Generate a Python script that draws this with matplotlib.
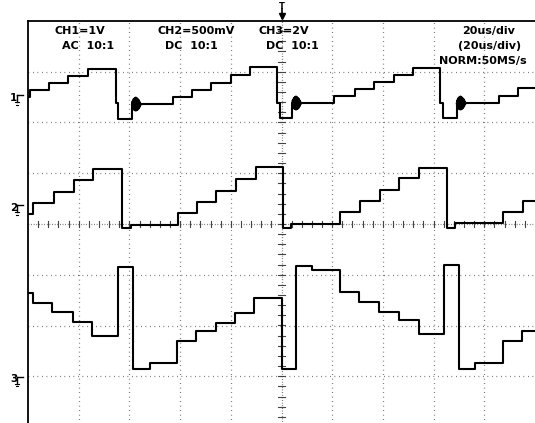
import numpy as np
import matplotlib.pyplot as plt

# scope capture: time in microseconds (20 us/div), vertical in screen divisions
# --- channel 1 (AC, 1 V/div) ---
ch1_t = [0, 0.6, 8.3, 15.8, 23.7, 34.8, 35.6, 41.1, 57.3, 64.8, 72.3, 80.2, 87.7,
         98.4, 99.6, 104.3, 120.9, 128.9, 136.4, 144.3, 151.8, 162.5, 163.6, 169.2,
         185.8, 193.3, 200]
ch1_v = [2.50, 2.64, 2.78, 2.92, 3.05, 2.38, 2.07, 2.36, 2.50, 2.64, 2.78, 2.94, 3.09,
         2.38, 2.09, 2.38, 2.52, 2.66, 2.80, 2.94, 3.07, 2.38, 2.09, 2.38,
         2.52, 2.68, 2.68]

# ringing burst after each rising edge of ch1
ring_start = [41.1, 104.3, 169.2]
ring_level = [2.36, 2.38, 2.38]
ring_dt = [0, 0.2, 0.4, 0.6, 0.8, 1.0, 1.2, 1.4, 1.6, 1.8, 2.0, 2.2, 2.4, 2.6, 2.8,
           3.0, 3.2, 3.4]
ring_dv = [0, 0.06, -0.07, 0.10, -0.11, 0.12, -0.12, 0.13, -0.12, 0.12, -0.11, 0.10,
           -0.09, 0.08, -0.06, 0.04, -0.02, 0]

# --- channel 2 (DC, 500 mV/div) ---
ch2_t = [0, 2.0, 10.3, 18.2, 25.7, 37.2, 40.5, 59.3, 66.8, 74.3, 82.2, 90.1,
         100.4, 103.8, 122.9, 130.8, 138.7, 146.2, 154.2, 165.2, 168.5, 187.4, 195.3, 200]
ch2_v = [0.20, 0.41, 0.63, 0.87, 1.08, -0.07, -0.02, 0.22, 0.43, 0.65, 0.89, 1.12,
         -0.07, 0.00, 0.24, 0.45, 0.67, 0.91, 1.10, -0.07, 0.02, 0.24, 0.45, 0.45]

# --- channel 3 (DC, 2 V/div) ---
ch3_t = [0, 2.0, 9.5, 17.8, 25.3, 35.6, 41.5, 48.2, 58.9, 66.4, 74.3, 81.8, 89.3,
         100.0, 105.9, 112.2, 122.9, 130.4, 138.3, 146.2, 154.2, 164.0, 170.0, 176.3,
         187.4, 194.9, 200]
ch3_v = [-1.36, -1.56, -1.73, -1.93, -2.21, -0.85, -2.86, -2.74, -2.31, -2.11, -1.95,
         -1.75, -1.46, -2.86, -0.83, -0.91, -1.34, -1.54, -1.73, -1.89, -2.17, -0.81,
         -2.86, -2.74, -2.31, -2.11, -2.11]

ground_labels = ['1', '2', '3']
ground_levels = [2.54, 0.37, -3.01]

fig = plt.figure(figsize=(5.35, 4.23), dpi=100)
ax = fig.add_axes([28 / 535, -4 / 423, 507 / 535, 406 / 423])
ax.set_xlim(0, 200)
ax.set_ylim(-4, 4)
ax.set_xticks([])
ax.set_yticks([])
for side in ['right', 'bottom']:
    ax.spines[side].set_visible(False)
for side in ['left', 'top']:
    ax.spines[side].set_linewidth(1.3)

# dotted graticule
dots = dict(color='#555555', lw=0.9, linestyle=(0, (0.6, 3.0)), zorder=1)
for i in range(1, 10):
    if i != 5:
        ax.axvline(i * 20, **dots)
for j in range(-3, 4):
    if j != 0:
        ax.axhline(j, **dots)

# centre cross with minor ticks
ax.axhline(0, color='#555555', lw=0.9, linestyle=(0, (0.6, 1.5)), zorder=1)
ax.axvline(100, color='#555555', lw=0.9, linestyle=(0, (0.6, 1.5)), zorder=1)
for tx in np.arange(4, 200, 4):
    ax.plot([tx, tx], [-0.06, 0.06], color='#444444', lw=0.8, zorder=1)
for ty in np.arange(-3.8, 4.0, 0.2):
    ax.plot([98.8, 101.2], [ty, ty], color='#444444', lw=0.8, zorder=1)

# traces
trace = dict(color='black', lw=1.5, drawstyle='steps-post', zorder=3)
ax.plot(ch1_t, ch1_v, **trace)
ax.plot(ch2_t, ch2_v, **trace)
ax.plot(ch3_t, ch3_v, **trace)
for t0, lv in zip(ring_start, ring_level):
    ax.plot([t0 + d for d in ring_dt], [lv + d for d in ring_dv],
            color='black', lw=1.6, zorder=4)

# ground markers on the left
for lab, lv in zip(ground_labels, ground_levels):
    ax.text(-5.6, lv - 0.05, lab, fontsize=7.5, fontweight='bold', ha='center',
            va='center', clip_on=False)
    ax.plot([-4.3, -2.0], [lv, lv], color='black', lw=1.0, clip_on=False)
    ax.plot([-4.3, -4.3], [lv, lv - 0.14], color='black', lw=1.0, clip_on=False)
    ax.plot([-5.0, -3.4], [lv - 0.14, lv - 0.14], color='black', lw=0.8, clip_on=False)
    ax.plot([-4.7, -3.8], [lv - 0.19, lv - 0.19], color='black', lw=0.8, clip_on=False)

# trigger position marker
ax.text(100, 4.29, 'T', fontsize=6, fontweight='bold', ha='center', va='center',
        clip_on=False)
ax.plot([100, 100], [4.24, 4.05], color='black', lw=1.2, clip_on=False)
ax.plot([100], [4.09], marker='v', ms=5, color='black', clip_on=False)

# readouts
txt = dict(fontsize=8, fontweight='bold', va='center', zorder=5)
ax.text(10.3, 3.80, 'CH1=1V', ha='left', **txt)
ax.text(13.4, 3.51, 'AC  10:1', ha='left', **txt)
ax.text(51.0, 3.80, 'CH2=500mV', ha='left', **txt)
ax.text(54.2, 3.51, 'DC  10:1', ha='left', **txt)
ax.text(90.9, 3.80, 'CH3=2V', ha='left', **txt)
ax.text(93.7, 3.51, 'DC  10:1', ha='left', **txt)
ax.text(192.1, 3.80, '20us/div', ha='right', **txt)
ax.text(194.5, 3.51, '(20us/div)', ha='right', **txt)
ax.text(196.8, 3.21, 'NORM:50MS/s', ha='right', **txt)

fig.savefig('out.png', dpi=100, facecolor='white')
